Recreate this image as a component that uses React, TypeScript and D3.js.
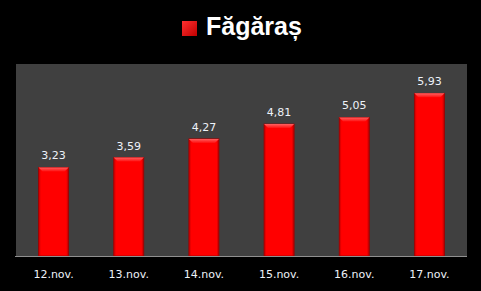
import React from "react";
import * as d3 from "d3";

const categories = ["12.nov.", "13.nov.", "14.nov.", "15.nov.", "16.nov.", "17.nov."];
const values = [3.23, 3.59, 4.27, 4.81, 5.05, 5.93];
const seriesName = "Făgăraș";

const W = 481;
const H = 291;
const plot = { left: 16, right: 467, top: 64, bottom: 256 };

export default function App() {
  const x = d3
    .scaleBand<string>()
    .domain(categories)
    .range([plot.left, plot.right])
    .paddingInner(0.6)
    .paddingOuter(0.3);
  const y = d3.scaleLinear().domain([0, 7]).range([plot.bottom, plot.top]);
  const fmt = (v: number) => v.toFixed(2).replace(".", ",");

  return (
    <div style={{ position: "absolute", left: 0, top: 0 }}>
      <svg width={W} height={H} style={{ display: "block" }}>
        <defs>
          <linearGradient id="barH" x1="0" x2="1" y1="0" y2="0">
            <stop offset="0" stopColor="#c00000" />
            <stop offset="0.08" stopColor="#ff0000" />
            <stop offset="0.92" stopColor="#ff0000" />
            <stop offset="1" stopColor="#b00000" />
          </linearGradient>
          <linearGradient id="bevel" x1="0" x2="0" y1="0" y2="1">
            <stop offset="0" stopColor="#ff6060" />
            <stop offset="1" stopColor="#ff1010" />
          </linearGradient>
          <linearGradient id="legendG" x1="0" x2="1" y1="0" y2="1">
            <stop offset="0" stopColor="#ff3030" />
            <stop offset="1" stopColor="#c00000" />
          </linearGradient>
        </defs>
        <rect x={0} y={0} width={W} height={H} fill="#000" />
        <rect
          x={plot.left}
          y={plot.top}
          width={plot.right - plot.left}
          height={plot.bottom - plot.top}
          fill="#404040"
        />
        {categories.map((c, i) => {
          const bx = x(c)!;
          const bw = x.bandwidth();
          const top = y(values[i]);
          const h = plot.bottom - top;
          return (
            <g key={c}>
              <rect x={bx} y={top} width={bw} height={h} fill="url(#barH)" stroke="#a00000" strokeWidth={0.8} />
              <polygon
                points={`${bx},${top} ${bx + bw},${top} ${bx + bw - 4},${top + 4} ${bx + 4},${top + 4}`}
                fill="url(#bevel)"
              />
              <text
                x={bx + bw / 2}
                y={top - 8}
                textAnchor="middle"
                fontFamily="DejaVu Sans"
                fontSize={11}
                fill="#eef2f8"
              >
                {fmt(values[i])}
              </text>
              <text
                x={bx + bw / 2}
                y={278}
                textAnchor="middle"
                fontFamily="DejaVu Sans"
                fontSize={11}
                fill="#eef2f8"
              >
                {c}
              </text>
            </g>
          );
        })}
        <line x1={15} x2={plot.right} y1={plot.bottom + 0.5} y2={plot.bottom + 0.5} stroke="#909090" strokeWidth={1} />
        <rect x={182} y={21} width={15} height={15} fill="url(#legendG)" />
        <text x={206} y={35} fontFamily="Liberation Sans, Arial" fontWeight="bold" fontSize={25} fill="#fff">
          {seriesName}
        </text>
      </svg>
    </div>
  );
}
